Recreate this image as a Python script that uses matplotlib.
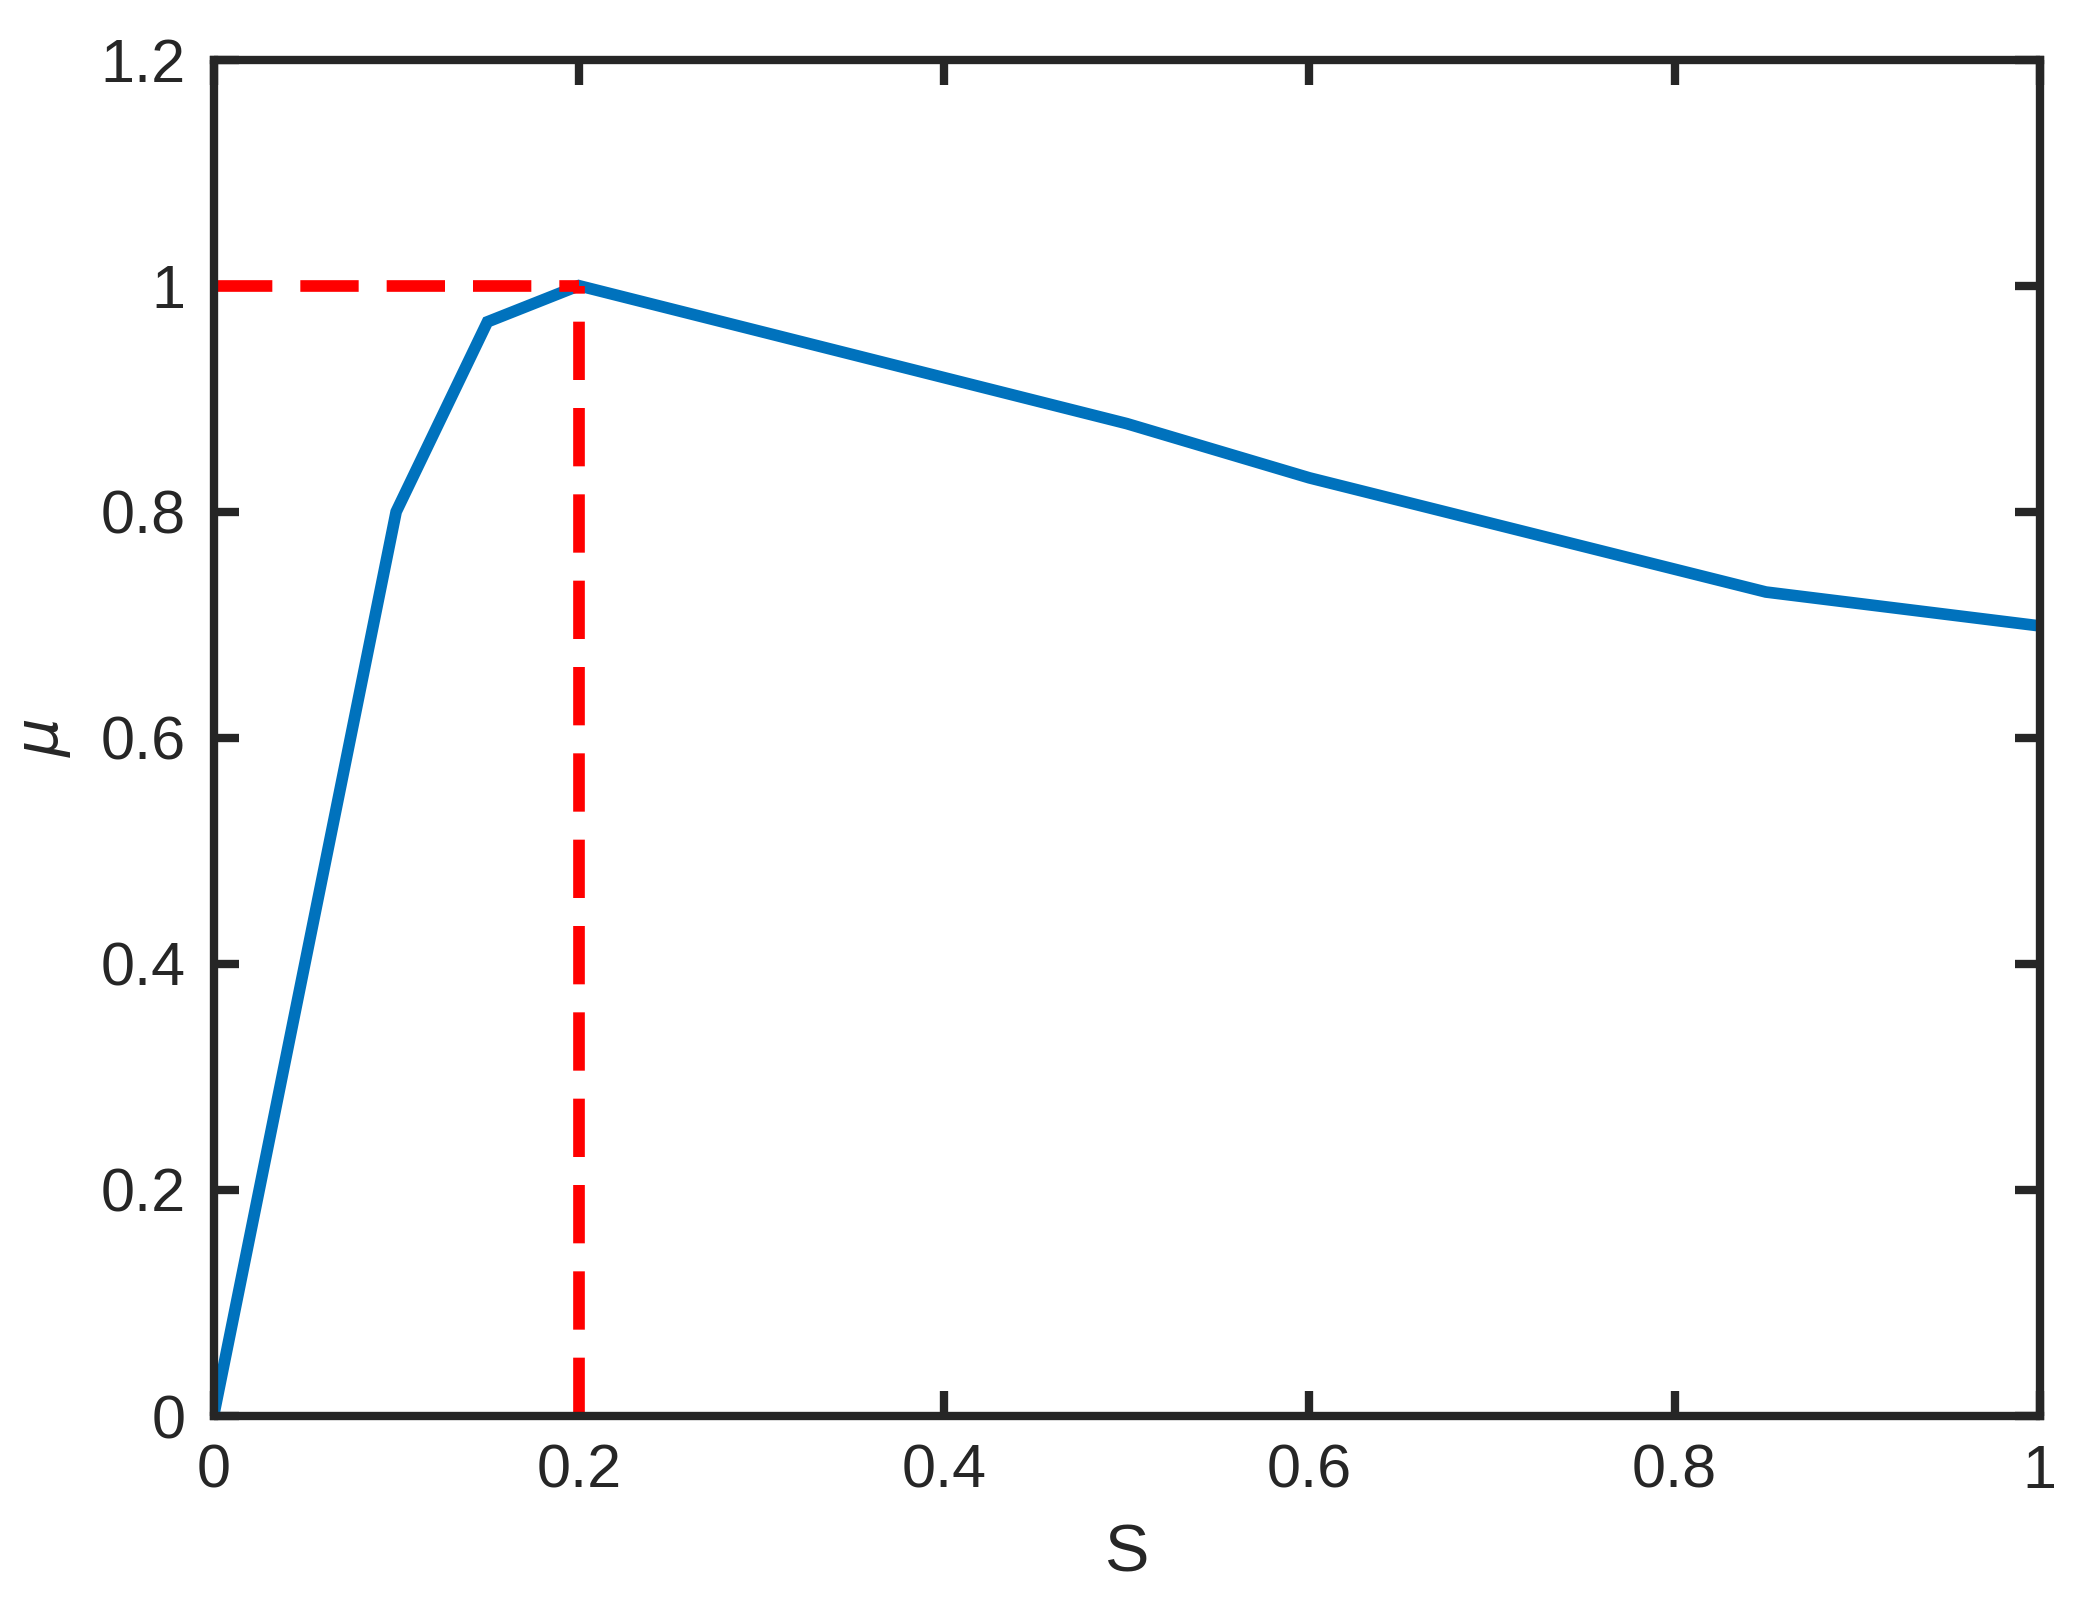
import matplotlib
matplotlib.use("Agg")
import matplotlib.pyplot as plt

s_vals = [0, 0.1, 0.15, 0.2, 0.5, 0.6, 0.85, 1.0]
mu_vals = [0, 0.8, 0.968, 1.0, 0.878, 0.83, 0.729, 0.699]
peak_s = 0.2
peak_mu = 1.0
xticks = [0, 0.2, 0.4, 0.6, 0.8, 1]
yticks = [0, 0.2, 0.4, 0.6, 0.8, 1, 1.2]

plt.rcParams['font.family'] = ['Arial', 'Liberation Sans', 'DejaVu Sans']
fig = plt.figure(figsize=(2073/200, 1611/200), dpi=200)
ax = fig.add_axes([0.103, 0.121, 0.881, 0.842])
ax.plot(s_vals, mu_vals, color='#0072BD', lw=4.2, solid_joinstyle='miter')
ax.plot([0, peak_s], [peak_mu, peak_mu], color='red', lw=4.2, ls=(0, (5, 2.4)))
ax.plot([peak_s, peak_s], [0, peak_mu], color='red', lw=4.2, ls=(0, (5, 2.4)))
ax.set_xlim(0, 1)
ax.set_ylim(0, 1.2)
ax.set_xticks(xticks)
ax.set_yticks(yticks)
ax.set_xticklabels(['0', '0.2', '0.4', '0.6', '0.8', '1'])
ax.set_yticklabels(['0', '0.2', '0.4', '0.6', '0.8', '1', '1.2'])
ax.tick_params(direction='in', length=9, width=3, labelsize=22, colors='#262626',
               top=True, right=True, pad=10)
for sp in ax.spines.values():
    sp.set_linewidth(3)
    sp.set_color('#262626')
ax.set_xlabel('S', fontsize=24, color='#262626', labelpad=8)
ax.set_ylabel(r'$\mu$', fontsize=22, color='#262626', labelpad=10)
fig.savefig('out.png', dpi=200)
